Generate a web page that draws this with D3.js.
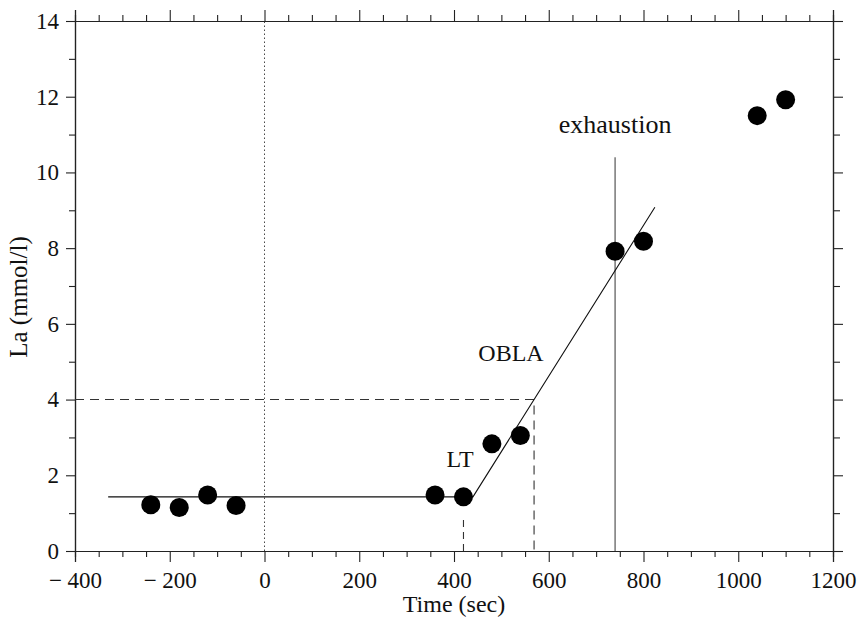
<!DOCTYPE html>
<html>
<head>
<meta charset="utf-8">
<script src="https://cdn.jsdelivr.net/npm/d3@7"></script>
<style>
  body { margin: 0; background: #fff; }
  svg text { font-family: "Liberation Serif", "DejaVu Serif", serif; fill: #111; }
</style>
</head>
<body>
<div id="chart"></div>
<script>
// Measured lactate values
const timeSec = [-240, -180, -120, -60, 360, 420, 480, 540, 740, 800, 1040, 1100];
const lactate = [1.22, 1.15, 1.48, 1.2, 1.48, 1.43, 2.83, 3.05, 7.92, 8.18, 11.5, 11.92];

// Fitted broken line (baseline + rise)
const fitTime = [-330, 440, 824];
const fitLa = [1.43, 1.43, 9.08];

// Markers
const ltTime = 420;
const oblaTime = 569;
const oblaLevel = 4;
const exhaustionTime = 740;
const exhaustionTop = 10.4;

const xMajor = [-400, -200, 0, 200, 400, 600, 800, 1000, 1200];
const yMajor = [0, 2, 4, 6, 8, 10, 12, 14];

const width = 865, height = 622;
const margin = { top: 21, right: 32, bottom: 71, left: 75 };

const svg = d3.select("#chart")
    .append("svg")
    .attr("width", width)
    .attr("height", height);

const x = d3.scaleLinear()
    .domain([-400, 1200])
    .range([margin.left, width - margin.right]);

const y = d3.scaleLinear()
    .domain([0, 14])
    .range([height - margin.bottom, margin.top]);

const xMinor = d3.range(-400, 1201, 50).filter(v => !xMajor.includes(v));
const yMinor = d3.range(1, 14, 2);

const fmt = v => v < 0 ? "\u2212 " + Math.abs(v) : String(v);

function styleAxis(g) {
    g.select(".domain").attr("stroke", "#222").attr("stroke-width", 1.2);
    g.selectAll(".tick line").attr("stroke", "#222").attr("stroke-width", 1.1);
    g.selectAll(".tick text").style("font-size", "23px");
}

// bottom
svg.append("g")
    .attr("transform", `translate(0, ${y(0)})`)
    .call(d3.axisBottom(x).tickValues(xMajor).tickSize(11).tickPadding(10).tickFormat(fmt))
    .call(styleAxis);
svg.append("g")
    .attr("transform", `translate(0, ${y(0)})`)
    .call(d3.axisBottom(x).tickValues(xMinor).tickSize(6).tickFormat(""))
    .call(styleAxis);

// top
svg.append("g")
    .attr("transform", `translate(0, ${y(14)})`)
    .call(d3.axisTop(x).tickValues(xMajor).tickSize(11).tickFormat(""))
    .call(styleAxis);
svg.append("g")
    .attr("transform", `translate(0, ${y(14)})`)
    .call(d3.axisTop(x).tickValues(xMinor).tickSize(6).tickFormat(""))
    .call(styleAxis);

// left
svg.append("g")
    .attr("transform", `translate(${x(-400)}, 0)`)
    .call(d3.axisLeft(y).tickValues(yMajor).tickSize(9).tickPadding(7))
    .call(styleAxis);
svg.append("g")
    .attr("transform", `translate(${x(-400)}, 0)`)
    .call(d3.axisLeft(y).tickValues(yMinor).tickSize(6).tickFormat(""))
    .call(styleAxis);

// right
svg.append("g")
    .attr("transform", `translate(${x(1200)}, 0)`)
    .call(d3.axisRight(y).tickValues(yMajor).tickSize(10).tickFormat(""))
    .call(styleAxis);
svg.append("g")
    .attr("transform", `translate(${x(1200)}, 0)`)
    .call(d3.axisRight(y).tickValues(yMinor).tickSize(7).tickFormat(""))
    .call(styleAxis);

// dotted line at time zero
svg.append("line")
    .attr("x1", x(0)).attr("x2", x(0))
    .attr("y1", y(0)).attr("y2", y(14))
    .attr("stroke", "#333")
    .attr("stroke-width", 0.9)
    .attr("stroke-dasharray", "1.5,2.5");

// OBLA dashed lines
svg.append("path")
    .attr("d", `M${x(-400)},${y(oblaLevel)}H${x(oblaTime)}V${y(0)}`)
    .attr("fill", "none")
    .attr("stroke", "#333")
    .attr("stroke-width", 1.1)
    .attr("stroke-dasharray", "9,6");

// LT dashed line
svg.append("line")
    .attr("x1", x(ltTime)).attr("x2", x(ltTime))
    .attr("y1", y(0)).attr("y2", y(0.95))
    .attr("stroke", "#333")
    .attr("stroke-width", 1.1)
    .attr("stroke-dasharray", "7,5");

// exhaustion line
svg.append("line")
    .attr("x1", x(exhaustionTime)).attr("x2", x(exhaustionTime))
    .attr("y1", y(0)).attr("y2", y(exhaustionTop))
    .attr("stroke", "#333")
    .attr("stroke-width", 1);

// fitted line
const line = d3.line()
    .x((d, i) => x(d))
    .y((d, i) => y(fitLa[i]));
svg.append("path")
    .attr("d", line(fitTime))
    .attr("fill", "none")
    .attr("stroke", "#111")
    .attr("stroke-width", 1.1);

// points
svg.selectAll(".dot")
    .data(timeSec)
    .enter()
    .append("circle")
    .attr("class", "dot")
    .attr("cx", d => x(d))
    .attr("cy", (d, i) => y(lactate[i]))
    .attr("r", 9.5)
    .attr("fill", "#000");

// annotations
svg.append("text")
    .attr("x", x(exhaustionTime))
    .attr("y", 133)
    .attr("text-anchor", "middle")
    .style("font-size", "26px")
    .text("exhaustion");

svg.append("text")
    .attr("x", 511)
    .attr("y", 361)
    .attr("text-anchor", "middle")
    .style("font-size", "24px")
    .text("OBLA");

svg.append("text")
    .attr("x", 460)
    .attr("y", 467)
    .attr("text-anchor", "middle")
    .style("font-size", "24px")
    .text("LT");

// axis labels
svg.append("text")
    .attr("x", (x(-400) + x(1200)) / 2)
    .attr("y", 612)
    .attr("text-anchor", "middle")
    .style("font-size", "24px")
    .text("Time (sec)");

svg.append("text")
    .attr("transform", "rotate(-90)")
    .attr("x", -297)
    .attr("y", 27)
    .attr("text-anchor", "middle")
    .style("font-size", "25px")
    .text("La (mmol/l)");
</script>
</body>
</html>
